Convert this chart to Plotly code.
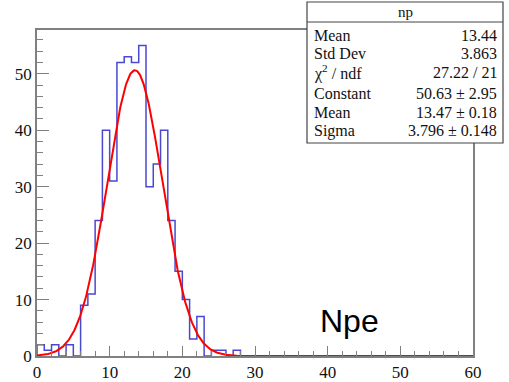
import numpy as np
import plotly.graph_objects as go

# ---- data ----
bin_edges = list(range(0, 61))
counts = [2, 1, 2, 0, 2, 0, 9, 11, 24, 40, 31, 52, 53, 52, 55, 30, 34, 40, 24, 15,
          10, 3, 7, 0, 1, 1, 0, 1] + [0] * 32
fit_constant = 50.63
fit_mean = 13.47
fit_sigma = 3.796
stats_title = "np"
stats_labels = ["Mean", "Std Dev", "χ<sup>2</sup> / ndf", "Constant", "Mean", "Sigma"]
stats_values = ["13.44", "3.863", "27.22 / 21", "50.63 ± 2.95", "13.47 ± 0.18", "3.796 ± 0.148"]
x_ticks = [0, 10, 20, 30, 40, 50, 60]
y_ticks = [0, 10, 20, 30, 40, 50]

W, H = 509, 382
L, R, T, B = 37, 36, 30, 26
pw, ph = W - L - R, H - T - B

def px(x):
    return (x - L) / pw

def py(y):
    return (H - B - y) / ph

# histogram step line
hx = [bin_edges[0]] + bin_edges[:-1] + [bin_edges[-1], bin_edges[-1]]
hy = [0] + counts + [counts[-1], 0]

xf = np.linspace(0, 60, 600)
yf = fit_constant * np.exp(-0.5 * ((xf - fit_mean) / fit_sigma) ** 2)

fig = go.Figure()
fig.add_trace(go.Scatter(x=hx, y=hy, mode="lines", line=dict(color="#4848d0", width=1.5, shape="hv"),
                         hoverinfo="skip"))
fig.add_trace(go.Scatter(x=xf, y=yf, mode="lines", line=dict(color="#ff0000", width=2),
                         hoverinfo="skip"))

serif = "Liberation Serif"
axis_common = dict(showline=True, linecolor="#808080", linewidth=1.5, mirror=True,
                   ticks="inside", tickcolor="#808080", tickwidth=1.2,
                   showgrid=False, zeroline=False, automargin=False,
                   tickfont=dict(family=serif, size=17, color="#111"))

fig.update_xaxes(range=[0, 60], tickvals=x_ticks, ticklen=10,
                 minor=dict(ticks="inside", dtick=2, ticklen=5, tickcolor="#808080", tickwidth=1.2),
                 **axis_common)
fig.update_yaxes(range=[0, 57.75], tickvals=y_ticks, ticklen=12,
                 minor=dict(ticks="inside", dtick=2, ticklen=6, tickcolor="#808080", tickwidth=1.2),
                 **axis_common)

shapes = []
annotations = []
# stats box
bx0, bx1, by0, by1 = 307, 503, 2, 143
shapes.append(dict(type="rect", xref="paper", yref="paper", x0=px(bx0), x1=px(bx1), y0=py(by1), y1=py(by0),
                   fillcolor="white", line=dict(color="#444", width=1.2), layer="above"))
shapes.append(dict(type="line", xref="paper", yref="paper", x0=px(bx0), x1=px(bx1), y0=py(22), y1=py(22),
                   line=dict(color="#444", width=1.2), layer="above"))
annotations.append(dict(text=stats_title, xref="paper", yref="paper", x=px((bx0 + bx1) / 2), y=py(12),
                        xanchor="center", yanchor="middle", showarrow=False,
                        font=dict(family=serif, size=15, color="#111")))
row_y = [35, 53.5, 72.5, 93, 112, 130.5]
for lab, val, ry in zip(stats_labels, stats_values, row_y):
    annotations.append(dict(text=lab, xref="paper", yref="paper", x=px(312), y=py(ry),
                            xanchor="left", yanchor="middle", showarrow=False,
                            font=dict(family=serif, size=16, color="#111")))
    annotations.append(dict(text=val, xref="paper", yref="paper", x=px(499), y=py(ry),
                            xanchor="right", yanchor="middle", showarrow=False,
                            font=dict(family=serif, size=16, color="#111")))
annotations.append(dict(text="Npe", xref="paper", yref="paper", x=px(349), y=py(321),
                        xanchor="center", yanchor="middle", showarrow=False,
                        font=dict(family="Liberation Sans", size=32, color="#000")))

fig.update_layout(width=W, height=H, margin=dict(l=L, r=R, t=T, b=B),
                  font=dict(family=serif, size=16, color="#111"),
                  paper_bgcolor="white", plot_bgcolor="white", showlegend=False,
                  shapes=shapes, annotations=annotations)

fig.write_html("out.html")
